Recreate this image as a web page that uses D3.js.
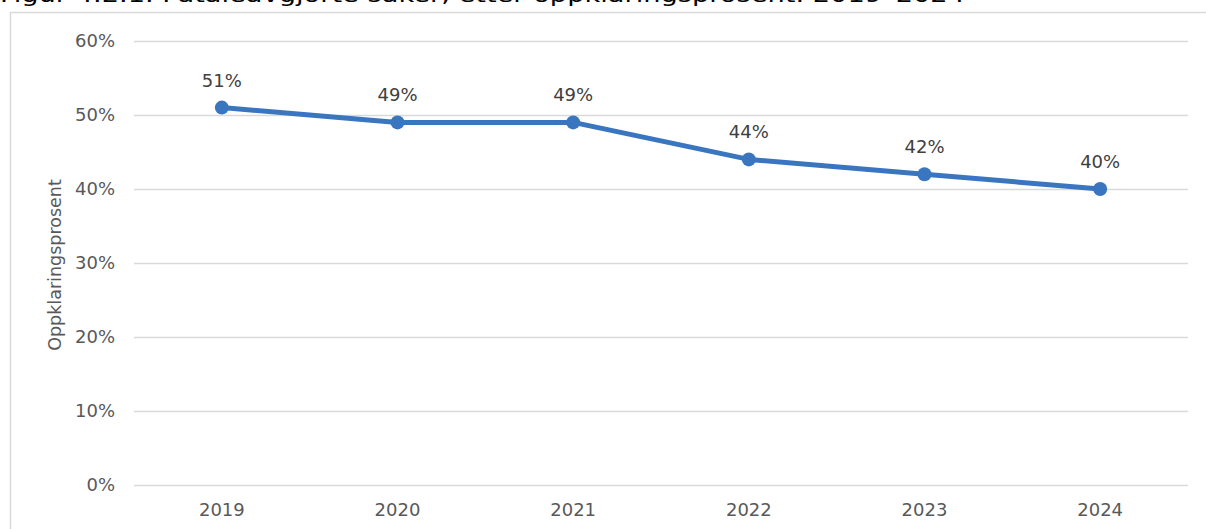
<!DOCTYPE html>
<html>
<head>
<meta charset="utf-8">
<script src="https://cdn.jsdelivr.net/npm/d3@7"></script>
<style>
  body { margin: 0; background: #fff; }
  svg { display: block; font-family: "DejaVu Sans", Verdana, sans-serif; }
</style>
</head>
<body>
<script>
// Data
const years = ["2019", "2020", "2021", "2022", "2023", "2024"];
const rates = [0.51, 0.49, 0.49, 0.44, 0.42, 0.40];
const yTicks = [0, 0.1, 0.2, 0.3, 0.4, 0.5, 0.6];
const title = "Figur 4.2.1. Påtaleavgjorte saker, etter oppklaringsprosent. 2019–2024";
const yTitle = "Oppklaringsprosent";

const W = 1206, H = 529;
const margin = { top: 41, right: 18, bottom: 44, left: 134 };

const svg = d3.select("body")
  .append("svg")
  .attr("width", W)
  .attr("height", H);

// figure title, cut off at the top edge like in the source
svg.append("text")
  .attr("x", 0)
  .attr("y", 2)
  .attr("font-size", 22)
  .attr("textLength", 965)
  .attr("lengthAdjust", "spacingAndGlyphs")
  .attr("fill", "#000")
  .text(title);

// chart frame
svg.append("rect")
  .attr("x", 10.5)
  .attr("y", 12.5)
  .attr("width", W)
  .attr("height", H)
  .attr("fill", "none")
  .attr("stroke", "#d9d9d9")
  .attr("stroke-width", 1.5);

const x = d3.scaleBand()
  .domain(years)
  .range([margin.left, W - margin.right]);

const y = d3.scaleLinear()
  .domain([0, 0.6])
  .range([H - margin.bottom, margin.top]);

// gridlines + y labels
const yAxis = d3.axisLeft(y)
  .tickValues(yTicks)
  .tickFormat(d3.format(".0%"))
  .tickSize(-(W - margin.right - margin.left))
  .tickPadding(19);

const gy = svg.append("g")
  .attr("transform", "translate(" + margin.left + ",0)")
  .call(yAxis);
gy.select(".domain").remove();
gy.selectAll(".tick line")
  .attr("stroke", "#d9d9d9")
  .attr("stroke-width", 1.5);
gy.selectAll(".tick text")
  .attr("fill", "#595959")
  .attr("font-size", 18)
  .attr("font-family", "DejaVu Sans, Verdana, sans-serif");

// x labels
const xAxis = d3.axisBottom(x).tickSize(0).tickPadding(18);
const gx = svg.append("g")
  .attr("transform", "translate(0," + (H - margin.bottom) + ")")
  .call(xAxis);
gx.select(".domain").remove();
gx.selectAll(".tick text")
  .attr("fill", "#595959")
  .attr("font-size", 18)
  .attr("font-family", "DejaVu Sans, Verdana, sans-serif");

// y axis title
svg.append("text")
  .attr("transform", "translate(61," + ((margin.top + H - margin.bottom) / 2 + 2) + ") rotate(-90)")
  .attr("text-anchor", "middle")
  .attr("font-size", 17.5)
  .attr("fill", "#595959")
  .text(yTitle);

const cx = d => x(d) + x.bandwidth() / 2;

// line
const line = d3.line()
  .x((d, i) => cx(years[i]))
  .y(d => y(d));

svg.append("path")
  .datum(rates)
  .attr("fill", "none")
  .attr("stroke", "#3a76bf")
  .attr("stroke-width", 5)
  .attr("stroke-linejoin", "round")
  .attr("d", line);

// markers
svg.selectAll(".pt")
  .data(rates)
  .enter().append("circle")
  .attr("cx", (d, i) => cx(years[i]))
  .attr("cy", d => y(d))
  .attr("r", 7)
  .attr("fill", "#3a76bf");

// value labels
svg.selectAll(".lbl")
  .data(rates)
  .enter().append("text")
  .attr("x", (d, i) => cx(years[i]))
  .attr("y", d => y(d) - 21)
  .attr("text-anchor", "middle")
  .attr("font-size", 18)
  .attr("fill", "#404040")
  .text(d3.format(".0%"));
</script>
</body>
</html>
